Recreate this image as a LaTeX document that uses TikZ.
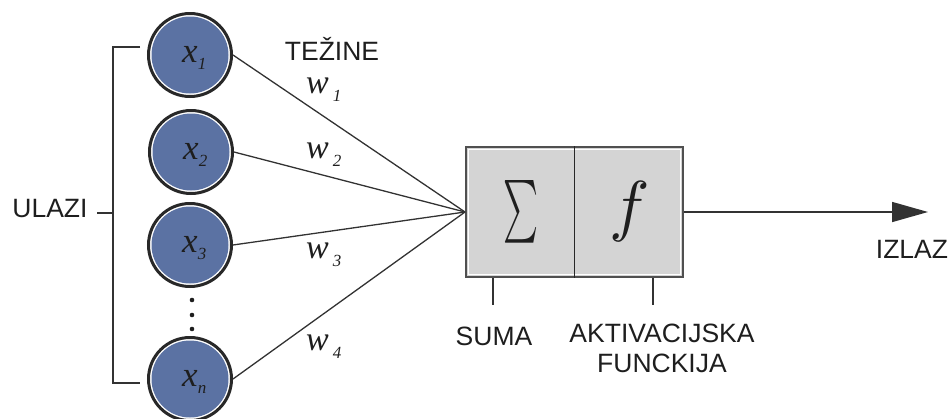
\documentclass[tikz,border=0pt]{standalone}
\usepackage{fontspec}
\setmainfont{Liberation Sans}
\newfontfamily\tms{Liberation Serif}
\usetikzlibrary{arrows.meta}
\definecolor{nblue}{RGB}{91,114,163}
\definecolor{ring}{RGB}{40,40,40}
\definecolor{boxfill}{RGB}{212,212,212}
\definecolor{boxline}{RGB}{80,80,80}
\definecolor{ink}{RGB}{30,30,30}
\definecolor{wire}{RGB}{50,50,50}
\newcommand{\xlab}[1]{{\fontsize{35}{35}\tms\itshape x}\rlap{\raisebox{-7pt}{\fontsize{17}{17}\tms\itshape #1}}}
\newcommand{\wlab}[1]{{\fontsize{34}{34}\tms\itshape w}\rlap{\raisebox{-8pt}{\hspace{4pt}\fontsize{17}{17}\tms\itshape #1}}}
\begin{document}
\begin{tikzpicture}[x=1pt,y=-1pt,
  neuron/.style={circle, draw=ring, line width=3pt, fill=white, minimum size=83pt, inner sep=0pt,
    text height=15pt, text depth=0pt, text=ink,
    path picture={\fill[nblue] (path picture bounding box.center) circle (38.5);}},
  lbl/.style={font=\fontsize{26.5}{30}\selectfont, text=ink, inner sep=0pt, anchor=base},
  wire/.style={draw=wire, line width=1.3pt},
  brk/.style={draw=wire, line width=1.5pt},
  wl/.style={inner sep=0pt, anchor=base west, text=ink}]
\useasboundingbox (0,0) rectangle (951,418);
% inputs
\node[neuron] (x1) at (190,55) {\xlab{1}};
\node[neuron] (x2) at (191,152) {\xlab{2}};
\node[neuron] (x3) at (190,245) {\xlab{3}};
\node[neuron] (xn) at (190,379) {\xlab{n}};
% dots
\fill[ink] (192,300) circle (2.3) (192,315) circle (2.3) (192,329) circle (2.3);
% box
\node[rectangle, draw=boxline, line width=2pt, fill=boxfill, minimum width=217pt, minimum height=130pt, inner sep=0pt,
  path picture={\draw[white, line width=1pt] ([shift={(2.5,2.5)}]path picture bounding box.north west) rectangle ([shift={(-2.5,-2.5)}]path picture bounding box.south east);}]
  (box) at (574.5,212) {};
\draw[draw=ring, line width=1.5pt] (box.north) -- (box.south);
\node[text=ink, inner sep=0pt] (sig) at (521,211.5) {\resizebox{35pt}{47pt}{$\sum$}};
\node[text=ink, inner sep=0pt] (fn) at (630,211.5) {\resizebox{!}{47pt}{$f$}};
% connectors
\draw[wire] (x1.east) -- (box.west);
\draw[wire] (x2.east) -- (box.west);
\draw[wire] (x3.east) -- (box.west);
\draw[wire] (xn.east) -- (box.west);
\coordinate (out) at (928,212);
\draw[wire, line width=1.5pt, -{Triangle[length=36pt,width=20pt]}] (box.east) -- (out);
% weights
\node[wl] (w1) at (306,93) {\wlab{1}};
\node[wl] (w2) at (306,158) {\wlab{2}};
\node[wl] (w3) at (306,258) {\wlab{3}};
\node[wl] (w4) at (306,350) {\wlab{4}};
% bracket
\coordinate (bt) at (140,47);
\coordinate (btl) at (113,47);
\coordinate (bbl) at (113,383);
\coordinate (bb) at (140,383);
\draw[brk] (bt) -- (btl) -- (bbl) -- (bb);
\coordinate (ut) at (97,213);
\coordinate (uj) at (113,213);
\draw[brk] (ut) -- (uj);
% ticks below box
\coordinate (s1) at ([xshift=-81.5pt]box.south);
\coordinate (s2) at (493,305);
\coordinate (a1) at ([xshift=78.5pt]box.south);
\coordinate (a2) at (653,305);
\draw[brk] (s1) -- (s2);
\draw[brk] (a1) -- (a2);
% labels
\node[lbl] (ulazi) at (50,217) {ULAZI};
\node[lbl] (tezine) at (332,60) {TEŽINE};
\node[lbl] (izlaz) at (912,258) {IZLAZ};
\node[lbl] (suma) at (494,345) {SUMA};
\node[lbl] (akt) at (662,342) {AKTIVACIJSKA};
\node[lbl] (funk) at (662,372) {FUNCKIJA};
\end{tikzpicture}
\end{document}
